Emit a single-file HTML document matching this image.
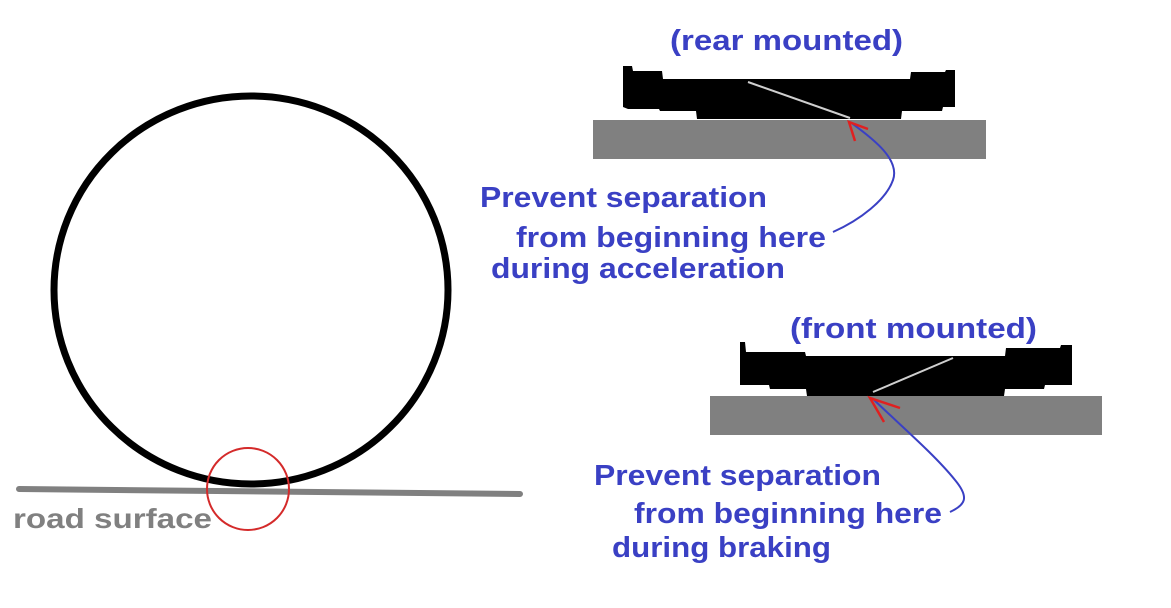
<!DOCTYPE html>
<html><head><meta charset="utf-8"><style>
html,body{margin:0;padding:0;background:#fff;}
svg{display:block;}
text{font-family:"Liberation Sans",sans-serif;font-weight:bold;}
</style></head><body>
<svg width="1171" height="608" viewBox="0 0 1171 608" xmlns="http://www.w3.org/2000/svg">
<rect width="1171" height="608" fill="#fff"/>
<ellipse cx="251" cy="290" rx="197" ry="194" fill="none" stroke="#000" stroke-width="7"/>
<line x1="19" y1="489" x2="520" y2="494" stroke="#808080" stroke-width="6" stroke-linecap="round"/>
<circle cx="248" cy="489" r="41" fill="none" stroke="#d42a2a" stroke-width="2"/>
<text x="13" y="528" font-size="28" fill="#808080" textLength="199" lengthAdjust="spacingAndGlyphs">road surface</text>

<text x="670" y="50" font-size="29" fill="#3a40c4" textLength="233" lengthAdjust="spacingAndGlyphs">(rear mounted)</text>
<polygon points="623,66 632,66 633,71 662,71 663,79 910,79 911,72 945,72 946,70 955,70 955,107 943,107 942,111 902,111 901,119 697,119 696,111 660,111 659,109 628,109 623,107" fill="#000"/>
<rect x="593" y="120" width="393" height="39" fill="#808080"/>
<line x1="748" y1="82" x2="850" y2="118" stroke="#cfcfcf" stroke-width="2"/>
<path d="M850,122 C875,140 900,160 893,180 C886,200 860,220 833,232" fill="none" stroke="#3a40c4" stroke-width="2"/>
<path d="M868,129 L849,122 L855,141" fill="none" stroke="#e02020" stroke-width="2.5"/>
<text x="480" y="207" font-size="29" fill="#3a40c4" textLength="287" lengthAdjust="spacingAndGlyphs">Prevent separation</text>
<text x="516" y="247" font-size="29" fill="#3a40c4" textLength="310" lengthAdjust="spacingAndGlyphs">from beginning here</text>
<text x="491" y="278" font-size="29" fill="#3a40c4" textLength="294" lengthAdjust="spacingAndGlyphs">during acceleration</text>

<text x="790" y="338" font-size="29" fill="#3a40c4" textLength="247" lengthAdjust="spacingAndGlyphs">(front mounted)</text>
<polygon points="740,342 745,342 746,352 805,352 806,356 1005,356 1006,348 1060,348 1061,345 1072,345 1072,385 1045,385 1044,389 1005,389 1004,396 807,396 806,389 770,389 769,385 740,385" fill="#000"/>
<rect x="710" y="396" width="392" height="39" fill="#808080"/>
<line x1="873" y1="392" x2="953" y2="358" stroke="#cfcfcf" stroke-width="2"/>
<path d="M872,398 C900,425 935,455 955,480 C970,498 965,505 950,512" fill="none" stroke="#3a40c4" stroke-width="2"/>
<path d="M900,408 L870,398 L884,422" fill="none" stroke="#e02020" stroke-width="2.5"/>
<text x="594" y="485" font-size="29" fill="#3a40c4" textLength="287" lengthAdjust="spacingAndGlyphs">Prevent separation</text>
<text x="634" y="523" font-size="29" fill="#3a40c4" textLength="308" lengthAdjust="spacingAndGlyphs">from beginning here</text>
<text x="612" y="557" font-size="29" fill="#3a40c4" textLength="219" lengthAdjust="spacingAndGlyphs">during braking</text>
</svg>
</body></html>
